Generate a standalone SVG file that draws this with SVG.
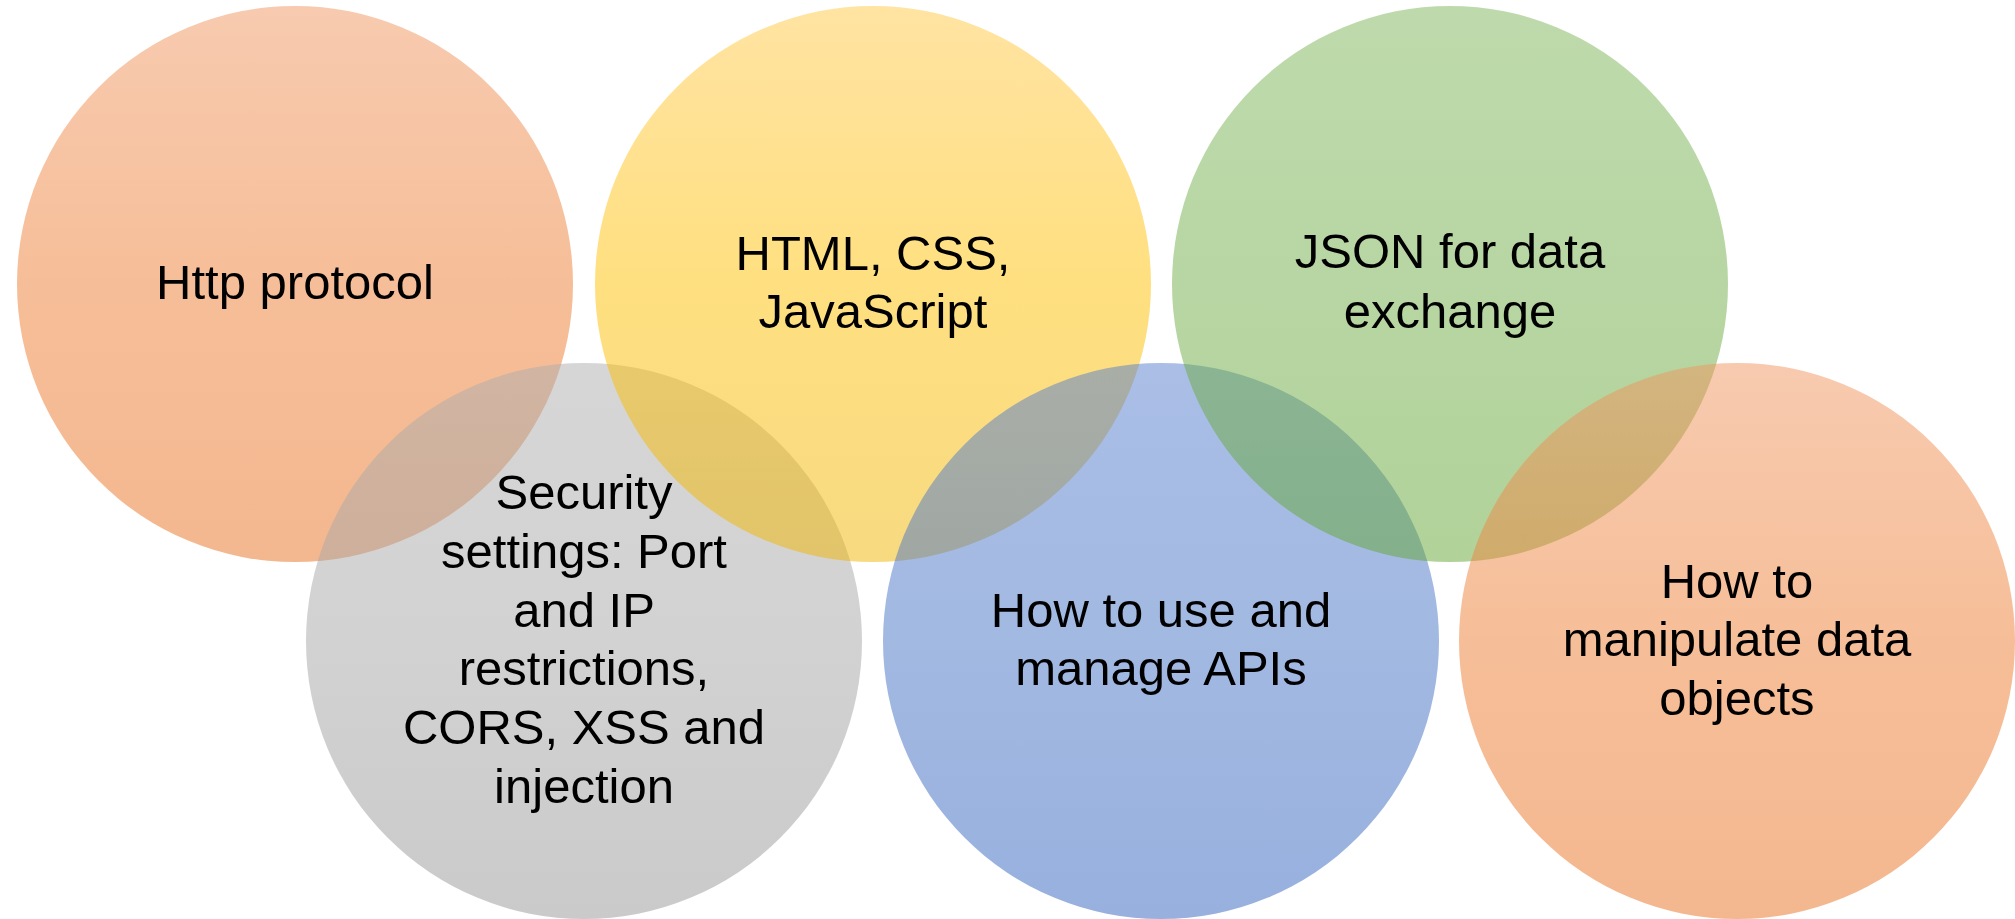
<svg xmlns="http://www.w3.org/2000/svg" width="2015" height="919" viewBox="0 0 2015 919">
<style>
text{font-family:"Liberation Sans",Arial,sans-serif;font-size:49px;fill:#000;text-anchor:middle}
</style>
<defs>
<linearGradient id="gOrange" x1="0" y1="0" x2="0" y2="1">
<stop offset="0" stop-color="#F0955F" stop-opacity="0.5"/>
<stop offset="0.5" stop-color="#ED7D31" stop-opacity="0.5"/>
<stop offset="1" stop-color="#E8701F" stop-opacity="0.5"/>
</linearGradient>
<linearGradient id="gYellow" x1="0" y1="0" x2="0" y2="1">
<stop offset="0" stop-color="#FFC845" stop-opacity="0.5"/>
<stop offset="0.5" stop-color="#FFC000" stop-opacity="0.5"/>
<stop offset="1" stop-color="#F0B400" stop-opacity="0.5"/>
</linearGradient>
<linearGradient id="gGreen" x1="0" y1="0" x2="0" y2="1">
<stop offset="0" stop-color="#7DB559" stop-opacity="0.5"/>
<stop offset="0.5" stop-color="#70AD47" stop-opacity="0.5"/>
<stop offset="1" stop-color="#63A533" stop-opacity="0.5"/>
</linearGradient>
<linearGradient id="gGray" x1="0" y1="0" x2="0" y2="1">
<stop offset="0" stop-color="#ADADAD" stop-opacity="0.5"/>
<stop offset="0.5" stop-color="#A5A5A5" stop-opacity="0.5"/>
<stop offset="1" stop-color="#959595" stop-opacity="0.5"/>
</linearGradient>
<linearGradient id="gBlue" x1="0" y1="0" x2="0" y2="1">
<stop offset="0" stop-color="#557DCD" stop-opacity="0.5"/>
<stop offset="0.5" stop-color="#4472C4" stop-opacity="0.5"/>
<stop offset="1" stop-color="#3161BD" stop-opacity="0.5"/>
</linearGradient>
</defs>
<rect width="2015" height="919" fill="#FFFFFF"/>
<g id="node-http">
<circle cx="295" cy="284" r="278" fill="url(#gOrange)"/>
<text x="295" y="299">Http protocol</text>
</g>
<g id="node-security">
<circle cx="584" cy="641" r="278" fill="url(#gGray)"/>
<text x="584" y="509">Security</text>
<text x="584" y="568">settings: Port</text>
<text x="584" y="627">and IP</text>
<text x="584" y="685">restrictions,</text>
<text x="584" y="744">CORS, XSS and</text>
<text x="584" y="803">injection</text>
</g>
<g id="node-html">
<circle cx="873" cy="284" r="278" fill="url(#gYellow)"/>
<text x="873" y="270">HTML, CSS,</text>
<text x="873" y="328">JavaScript</text>
</g>
<g id="node-apis">
<circle cx="1161" cy="641" r="278" fill="url(#gBlue)"/>
<text x="1161" y="627">How to use and</text>
<text x="1161" y="685">manage APIs</text>
</g>
<g id="node-json">
<circle cx="1450" cy="284" r="278" fill="url(#gGreen)"/>
<text x="1450" y="268">JSON for data</text>
<text x="1450" y="328">exchange</text>
</g>
<g id="node-objects">
<circle cx="1737" cy="641" r="278" fill="url(#gOrange)"/>
<text x="1737" y="598">How to</text>
<text x="1737" y="656">manipulate data</text>
<text x="1737" y="715">objects</text>
</g>
<g id="connectors"></g>
</svg>
